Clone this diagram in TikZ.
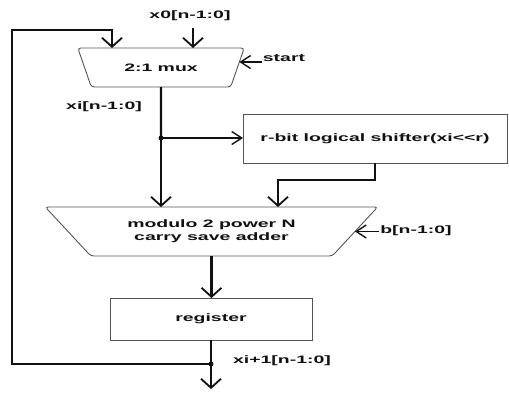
\documentclass[tikz,border=0pt]{standalone}
\usepackage{fontspec}
\newfontfamily\blockfont{Liberation Sans}[FakeStretch=1.8]
\usetikzlibrary{arrows.meta,positioning,shapes.geometric,calc}
\definecolor{ink}{HTML}{111111}
\definecolor{edgegray}{HTML}{555555}

\tikzset{
  blk/.style={draw=edgegray,line width=0.9pt,fill=white,inner sep=0pt,outer sep=0pt,
    font=\blockfont\bfseries\fontsize{10.8}{13}\selectfont,text=ink,align=center},
  trap/.style={blk,trapezium,trapezium stretches=true,shape border rotate=180,rounded corners=3pt},
  lab/.style={font=\blockfont\bfseries\fontsize{10.8}{13}\selectfont,text=ink,inner sep=1pt},
  bus/.style={ink,line width=2.4pt},
  vin/.style={bus,-{Straight Barb[length=9pt,width=20pt,line width=1.8pt]}},
  hin/.style={ink,line width=1.4pt,-{Straight Barb[length=10pt,width=13pt]}},
  jdot/.style={circle,fill=ink,inner sep=0pt,minimum size=5pt}
}

\begin{document}
\begin{tikzpicture}[x=1pt,y=-1pt]
  \useasboundingbox (0,0) rectangle (509,392);

  % blocks
  \node[trap,trapezium angle=47,minimum width=168,minimum height=39] (mux) at (161,67.5) {2:1 mux};
  \node[blk,minimum width=264,minimum height=49] (shifter) at (375,138.5) {r-bit logical shifter(xi<<r)};
  \node[trap,trapezium angle=36,minimum width=333,minimum height=49] (adder) at (211.5,231.5)
    {modulo 2 power N\\carry save adder};
  \node[blk,minimum width=202,minimum height=42] (register) at (211,319) {register};

  % labels
  \node[lab] (x0lab) at (190,16) {x0[n-1:0]};
  \node[lab] (startlab) at (284,58) {start};
  \node[lab] (xilab) at (104,107) {xi[n-1:0]};
  \node[lab] (blab) at (416,231) {b[n-1:0]};
  \node[lab] (nextlab) at (282,361) {xi+1[n-1:0]};

  % junctions and bends
  \node[jdot] (split) at (161,138) {};
  \node[jdot] (tap) at (211,364) {};
  \coordinate (fbbot) at (12,364);
  \coordinate (fbtop) at (12,30);
  \coordinate (fbx) at (112,30);
  \coordinate (x0x) at (193,28);
  \coordinate (shjog) at (278,180);
  \coordinate (out) at (211,389);

  % connectors
  \draw[vin] (x0x) -- (x0x |- mux.north);
  \draw[vin,line join=miter] (tap.center) -- (fbbot) -- (fbtop) -- (fbx) -- (fbx |- mux.north);
  \draw[hin] (startlab.west |- mux.4) -- (mux.4);
  \draw[bus] (mux.south) -- (split.center);
  \draw[vin] (split.center) -- (split |- adder.north);
  \draw[hin] (split.center) -- (split -| shifter.west);
  \draw[vin,line join=miter] (shifter.south) |- (shjog) -- (shjog |- adder.north);
  \draw[hin] (blab.west |- adder.east) -- (adder.east);
  \draw[vin] (adder.south) -- (adder.south |- register.north);
  \draw[bus] (register.south) -- (tap.center);
  \draw[vin] (tap.center) -- (out);
\end{tikzpicture}
\end{document}
